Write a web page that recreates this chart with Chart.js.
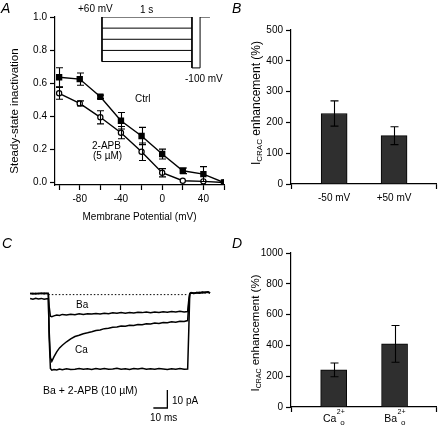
<!DOCTYPE html>
<html>
<head>
<meta charset="utf-8">
<script src="https://cdn.jsdelivr.net/npm/chart.js@4.4.1/dist/chart.umd.min.js"></script>
<style>
  body { margin: 0; width: 439px; height: 428px; position: relative; background: #fff; overflow: hidden;
         font-family: 'Liberation Sans', Arial, Helvetica, sans-serif; color: #000; }
  canvas { position: absolute; }
  .lbl { position: absolute; font-size: 10px; line-height: 10px; white-space: nowrap; }
  .panel { position: absolute; font-size: 14px; line-height: 14px; font-style: italic; }
</style>
</head>
<body>
<canvas id="chartA" width="230" height="228" style="left:0;top:0"></canvas>
<canvas id="chartB" width="219" height="215" style="left:220px;top:0"></canvas>
<canvas id="chartC" width="220" height="198" style="left:0;top:230px"></canvas>
<canvas id="chartD" width="219" height="200" style="left:220px;top:228px"></canvas>

<div class="panel" style="left:1px;top:1px">A</div>
<div class="panel" style="left:232px;top:1px">B</div>
<div class="panel" style="left:2px;top:236px">C</div>
<div class="panel" style="left:232px;top:236px">D</div>

<div class="lbl" style="left:78px;top:4px">+60 mV</div>
<div class="lbl" style="left:140px;top:5px">1 s</div>
<div class="lbl" style="left:185px;top:74px">-100 mV</div>
<div class="lbl" style="left:135px;top:94px">Ctrl</div>
<div class="lbl" style="left:92px;top:141px">2-APB</div>
<div class="lbl" style="left:93px;top:151px">(5 µM)</div>

<div class="lbl" style="left:76px;top:300px">Ba</div>
<div class="lbl" style="left:75px;top:345px">Ca</div>
<div class="lbl" style="left:43px;top:385px;font-size:10.5px">Ba + 2-APB (10 µM)</div>
<div class="lbl" style="left:172px;top:396px">10 pA</div>
<div class="lbl" style="left:150px;top:413px">10 ms</div>

<script>
// A: steady-state inactivation vs membrane potential
const potentials = [-100, -80, -60, -40, -20, 0, 20, 40, 60];
const ctrlInact = [0.636, 0.625, 0.518, 0.373, 0.281, 0.172, 0.071, 0.051, 0.0];
const ctrlErr   = [0.057, 0.037, 0.01, 0.05, 0.052, 0.03, 0.017, 0.045, 0];
const apbInact  = [0.539, 0.478, 0.394, 0.301, 0.186, 0.059, 0.011, 0.007, 0.0];
const apbErr    = [0.036, 0.015, 0.04, 0.037, 0.053, 0.025, 0, 0, 0];
const xTicksA = [-100, -80, -60, -40, -20, 0, 20, 40, 60];
const xLabelsA = [-80, -40, 0, 40];
const yTicksA = [0, 0.2, 0.4, 0.6, 0.8, 1.0];

// A inset: voltage protocol (mV, ms)
const condLevels = [60, 25, -10, -45, -80];
const condMs = 1000;
const testMs = 90;
const tailMs = 110;
const testLevel = -100;

// B: enhancement at two holding potentials
const bLabels = ['-50 mV', '+50 mV'];
const bValues = [229, 157];
const bErr = [41, 29];
const yTicksB = [0, 100, 200, 300, 400, 500];

// C: current traces (ms, pA)
const traceMs = [-13, -11, -9, -7, -5, -3, -1, 0,
  0.6, 1.5, 2.5, 4, 6, 8, 10, 13, 16, 19, 22, 25, 28, 31, 34, 37, 40, 43, 46, 49, 52, 55,
  58, 61, 64, 67, 70, 73, 76, 79, 82, 85, 88, 91, 94, 97, 99.5,
  100.3, 101, 102, 104, 106, 108, 110, 112, 114, 115.5];
const baTrace = [0.7, 0.4, 0.8, 0.5, 0.9, 0.4, 0.7, 0.6,
  -6.5, -12.0, -12.3, -11.8, -11.3, -11.6, -11.0, -11.3, -10.9, -11.2, -10.7, -11.1, -10.6, -10.8, -10.5, -10.7,
  -10.3, -10.6, -10.1, -10.4, -10.0, -10.3, -9.9, -10.2, -9.8, -10.0, -9.7, -10.1, -9.6, -9.9, -9.5, -9.8,
  -9.4, -9.7, -9.3, -9.6, -9.4,
  -3.0, 0.6, 1.0, 0.7, 1.2, 0.9, 1.5, 1.1, 1.6, 1.0];
const caTrace = [-2.2, -2.5, -2.0, -2.4, -2.1, -2.6, -2.3, -2.3,
  -20, -35, -37.1, -34.6, -31.8, -29.6, -28.1, -26.2, -24.6, -23.3, -22.6, -21.7, -21.2, -20.6, -19.9, -19.6,
  -18.9, -18.7, -18.1, -18.0, -17.5, -17.6, -17.0, -17.1, -16.6, -16.7, -16.2, -16.3, -15.8, -16.0, -15.5, -15.6,
  -15.1, -15.3, -14.8, -14.9, -14.4,
  -5.0, 0.4, 0.9, 0.6, 1.1, 0.8, 1.3, 1.0, 1.4, 0.9];
const apbTrace = [0.5, 0.8, 0.4, 0.7, 0.5, 0.9, 0.6, 0.6,
  -24, -41.0, -42.0, -41.6, -41.9, -41.3, -41.7, -41.2, -41.6, -41.4, -41.0, -41.5, -41.2, -41.6, -41.1, -41.4,
  -41.0, -41.5, -41.3, -40.9, -41.4, -41.2, -41.6, -41.1, -41.3, -40.9, -41.4, -41.2, -41.5, -41.0, -41.3, -41.6,
  -41.2, -41.4, -41.1, -41.5, -41.3,
  -20, 0.5, 1.1, 0.8, 1.0, 1.3, 0.9, 1.4, 1.2, 1.0];
const pulseMs = [0, 100];
const scaleBarMs = 10;
const scaleBarPa = 10;
const scaleBarAt = { ms: 75, pA: -63 };

// D: enhancement in Ca vs Ba
const dIons = ['Ca', 'Ba'];
const dValues = [241, 410];
const dErr = [45, 119];
const yTicksD = [0, 200, 400, 600, 800, 1000];

const FONT = "'Liberation Sans', Arial, Helvetica, sans-serif";
Chart.defaults.font.family = FONT;
Chart.defaults.font.size = 10;
Chart.defaults.color = '#000';

const pts = (xs, ys) => xs.map((x, i) => ({ x: x, y: ys[i] }));

// error bars drawn from dataset.errors
function errorBars(capHalf) {
  return {
    id: 'errorBars',
    afterDatasetsDraw(chart) {
      const ctx = chart.ctx;
      chart.data.datasets.forEach((ds, i) => {
        if (!ds.errors) return;
        const meta = chart.getDatasetMeta(i);
        const xs = chart.scales[meta.xAxisID];
        const ys = chart.scales[meta.yAxisID];
        ctx.save();
        ctx.strokeStyle = '#000';
        ctx.lineWidth = 1.1;
        ds.data.forEach((p, j) => {
          const e = ds.errors[j];
          if (!e) return;
          const x = Math.round(xs.getPixelForValue(p.x)) + 0.5;
          const top = ys.getPixelForValue(p.y + e);
          const bot = ys.getPixelForValue(p.y - e);
          ctx.beginPath();
          ctx.moveTo(x, top); ctx.lineTo(x, bot);
          ctx.moveTo(x - capHalf, top); ctx.lineTo(x + capHalf, top);
          ctx.moveTo(x - capHalf, bot); ctx.lineTo(x + capHalf, bot);
          ctx.stroke();
        });
        ctx.restore();
      });
    }
  };
}

// rotated y title, parts may be subscripts
function richTitle(x, parts, dy) {
  return {
    id: 'richTitle',
    afterDraw(chart) {
      const { ctx, chartArea } = chart;
      ctx.save();
      ctx.translate(x, (chartArea.top + chartArea.bottom) / 2 + (dy || 0));
      ctx.rotate(-Math.PI / 2);
      ctx.fillStyle = '#000';
      ctx.textBaseline = 'middle';
      const widths = parts.map(p => { ctx.font = p.size + 'px ' + FONT; return ctx.measureText(p.text).width; });
      let pos = -widths.reduce((a, b) => a + b, 0) / 2;
      parts.forEach((p, i) => {
        ctx.font = p.size + 'px ' + FONT;
        ctx.fillText(p.text, pos, p.dy || 0);
        pos += widths[i];
      });
      ctx.restore();
    }
  };
}

// x labels like Ca2+o
function ionLabels(names) {
  return {
    id: 'ionLabels',
    afterDraw(chart) {
      const { ctx } = chart;
      const xs = chart.scales.x;
      ctx.save();
      ctx.fillStyle = '#000';
      ctx.textBaseline = 'middle';
      names.forEach((name, i) => {
        ctx.font = '10.5px ' + FONT;
        const w = ctx.measureText(name).width;
        ctx.font = '7px ' + FONT;
        const ws = ctx.measureText('2+').width;
        const x0 = xs.getPixelForValue(i + 1) - (w + ws) / 2;
        const y = xs.top + 12;
        ctx.font = '10.5px ' + FONT;
        ctx.fillText(name, x0, y);
        ctx.font = '7px ' + FONT;
        ctx.fillText('2+', x0 + w + 0.5, y - 7);
        ctx.font = '8px ' + FONT;
        ctx.fillText('o', x0 + w + 4, y + 4);
      });
      ctx.restore();
    }
  };
}

const axisGrid = { drawOnChartArea: false, tickLength: 5, tickColor: '#000', tickWidth: 1.2 };
const axisBorder = { color: '#000', width: 1.2 };
const setTicks = list => scale => { scale.ticks = list.map(v => ({ value: v })); };

// ---- Panel A ----
const insetSets = condLevels.map(l => ({ data: [{ x: 0, y: l }, { x: condMs, y: l }] }));
insetSets.push({ data: [{ x: 0, y: condLevels[0] }, { x: 0, y: condLevels[condLevels.length - 1] }] });
insetSets.push({ data: [
  { x: condMs, y: condLevels[0] }, { x: condMs, y: testLevel },
  { x: condMs + testMs, y: testLevel }, { x: condMs + testMs, y: condLevels[0] },
  { x: condMs + testMs + tailMs, y: condLevels[0] }] });
insetSets.forEach(s => Object.assign(s, { xAxisID: 'x2', yAxisID: 'y2', borderColor: '#000', borderWidth: 1, pointRadius: 0 }));

new Chart(document.getElementById('chartA'), {
  type: 'line',
  data: {
    datasets: [
      { label: 'Ctrl', data: pts(potentials, ctrlInact), errors: ctrlErr, xAxisID: 'x', yAxisID: 'y',
        borderColor: '#000', borderWidth: 1.4, pointStyle: 'rect', pointRadius: 3.5,
        pointBackgroundColor: '#000', pointBorderColor: '#000' },
      { label: '2-APB', data: pts(potentials, apbInact), errors: apbErr, xAxisID: 'x', yAxisID: 'y',
        borderColor: '#000', borderWidth: 1.4, pointStyle: 'circle', pointRadius: 2.6,
        pointBackgroundColor: '#fff', pointBorderColor: '#000', pointBorderWidth: 1.2 }
    ].concat(insetSets)
  },
  options: {
    responsive: false, animation: false,
    layout: { padding: { top: 17, right: 6, left: 0, bottom: 0 } },
    plugins: { legend: { display: false }, tooltip: { enabled: false } },
    scales: {
      x: { type: 'linear', min: -104, max: 60, afterBuildTicks: setTicks(xTicksA),
           ticks: { callback: v => xLabelsA.includes(v) ? String(v) : '', padding: 3, autoSkip: false, maxRotation: 0 },
           grid: axisGrid, border: axisBorder,
           title: { display: true, text: 'Membrane Potential (mV)', font: { size: 10 }, padding: { top: 0, bottom: 5 } },
           afterFit: s => { s.height = 43; } },
      y: { type: 'linear', min: -0.015, max: 1, afterBuildTicks: setTicks(yTicksA),
           ticks: { callback: v => v.toFixed(1), padding: 3 },
           grid: axisGrid, border: axisBorder,
           afterFit: s => { s.width = 55; } },
      x2: { type: 'linear', display: false, min: -522, max: 1356 },
      y2: { type: 'linear', display: false, min: -468, max: 60 }
    }
  },
  plugins: [errorBars(3.5), richTitle(14.5, [{ text: 'Steady-state inactivation', size: 11.5 }], 10)]
});

// ---- Bar panels B and D ----
function barChart(id, labels, values, errs, yTicks, yMax, xMin, xMax, padTop, xHeight, plugins, labelFn) {
  const ends = [xMin, xMax];
  return new Chart(document.getElementById(id), {
    type: 'bar',
    data: { datasets: [{ data: pts(labels.map((l, i) => i + 1), values), errors: errs,
      backgroundColor: '#2f2f2f', borderColor: '#000', borderWidth: 1, barThickness: 26 }] },
    options: {
      responsive: false, animation: false,
      layout: { padding: { top: padTop, right: 2, left: 0, bottom: 0 } },
      plugins: { legend: { display: false }, tooltip: { enabled: false } },
      scales: {
        x: { type: 'linear', offset: false, min: xMin, max: xMax,
             afterBuildTicks: setTicks([xMin, 1, 2, xMax]),
             ticks: { callback: labelFn, padding: 3, autoSkip: false, maxRotation: 0 },
             grid: Object.assign({}, axisGrid, { offset: false,
               tickColor: c => (c.tick && ends.includes(c.tick.value)) ? '#000' : 'rgba(0,0,0,0)' }),
             border: axisBorder,
             afterFit: s => { s.height = xHeight; } },
        y: { min: 0, max: yMax, afterBuildTicks: setTicks(yTicks),
             ticks: { padding: 3, callback: v => String(v) }, grid: axisGrid, border: axisBorder,
             afterFit: s => { s.width = 71; } }
      }
    },
    plugins: plugins
  });
}

const icracTitle = size => [
  { text: 'I', size: size },
  { text: 'CRAC', size: Math.round(size * 0.65), dy: 3 },
  { text: ' enhancement (%)', size: size }
];

barChart('chartB', bLabels, bValues, bErr, yTicksB, 500, 0.28, 2.7, 30, 31,
  [errorBars(4), richTitle(37, icracTitle(12), -4)],
  v => (v === 1 || v === 2) ? bLabels[v - 1] : '');

barChart('chartD', dIons, dValues, dErr, yTicksD, 1000, 0.3, 2.68, 25, 21,
  [errorBars(4), richTitle(36, icracTitle(11.5), 3), ionLabels(dIons)],
  () => '');

// ---- Panel C: traces ----
const traceStyle = { borderColor: '#000', borderWidth: 1.5, pointRadius: 0, tension: 0 };
new Chart(document.getElementById('chartC'), {
  type: 'line',
  data: {
    datasets: [
      Object.assign({ label: 'baseline', data: pts(pulseMs, [0, 0]), borderDash: [1.5, 2] }, traceStyle, { borderWidth: 1 }),
      Object.assign({ label: 'Ba', data: pts(traceMs, baTrace) }, traceStyle),
      Object.assign({ label: 'Ca', data: pts(traceMs, caTrace) }, traceStyle),
      Object.assign({ label: 'Ba + 2-APB', data: pts(traceMs, apbTrace) }, traceStyle),
      Object.assign({ label: 'scale', data: [
        { x: scaleBarAt.ms, y: scaleBarAt.pA },
        { x: scaleBarAt.ms + scaleBarMs, y: scaleBarAt.pA },
        { x: scaleBarAt.ms + scaleBarMs, y: scaleBarAt.pA + scaleBarPa }] }, traceStyle, { borderWidth: 1.3 })
    ]
  },
  options: {
    responsive: false, animation: false,
    layout: { padding: 0 },
    plugins: { legend: { display: false }, tooltip: { enabled: false } },
    scales: {
      x: { type: 'linear', display: false, min: -34.5, max: 122.6 },
      y: { type: 'linear', display: false, min: -74.1, max: 35.9 }
    }
  }
});
</script>
</body>
</html>
